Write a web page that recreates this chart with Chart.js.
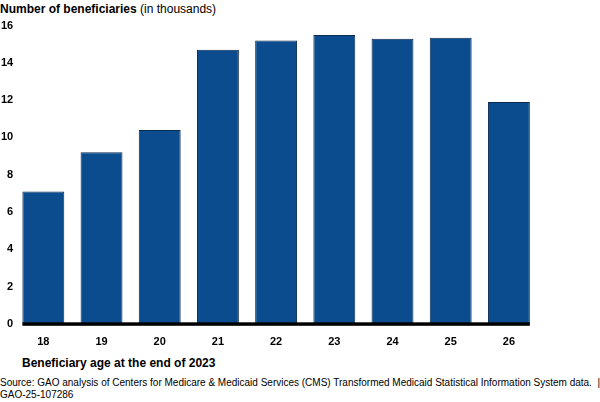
<!DOCTYPE html>
<html>
<head>
<meta charset="utf-8">
<script src="https://cdn.jsdelivr.net/npm/chart.js@4"></script>
<style>
  body { margin: 0; background: #fff; font-family: Arial, 'Liberation Sans', sans-serif; color: #000; }
  #wrap { position: relative; width: 600px; height: 402px; }
  #chartBox { position: absolute; left: 0; top: 18px; width: 600px; height: 335px; }
  .txt { position: absolute; white-space: nowrap; }
  #ytitle { left: 0; top: 2px; font-size: 12px; }
  #xtitle { left: 22px; top: 356px; font-size: 12px; font-weight: bold; }
  #source { left: 0; top: 377px; font-size: 10px; line-height: 12px; }
</style>
</head>
<body>
<div id="wrap">
  <div class="txt" id="ytitle"><b>Number of beneficiaries</b> (in thousands)</div>
  <div id="chartBox"><canvas id="chart"></canvas></div>
  <div class="txt" id="xtitle">Beneficiary age at the end of 2023</div>
  <div class="txt" id="source">Source: GAO analysis of Centers for Medicare &amp; Medicaid Services (CMS) Transformed Medicaid Statistical Information System data.&nbsp; |<br>GAO-25-107286</div>
</div>
<script>
const ages = ['18', '19', '20', '21', '22', '23', '24', '25', '26']
const beneficiaries = [7.1, 9.2, 10.4, 14.7, 15.2, 15.5, 15.3, 15.35, 11.9]
const yTicks = [0, 2, 4, 6, 8, 10, 12, 14, 16]

// thick black baseline under the bars only
const baseline = {
    id: 'baseline',
    afterDatasetsDraw(chart) {
        const bars = chart.getDatasetMeta(0).data
        const first = bars[0], last = bars[bars.length - 1]
        const y = chart.scales.y.getPixelForValue(0)
        const ctx = chart.ctx
        ctx.save()
        ctx.fillStyle = '#000'
        ctx.fillRect(first.x - first.width / 2, y - 1.5, (last.x + last.width / 2) - (first.x - first.width / 2), 3.5)
        ctx.restore()
    }
}

new Chart(document.getElementById('chart'), {
    type: 'bar',
    data: {
        labels: ages,
        datasets: [{
            data: beneficiaries,
            backgroundColor: '#0a4c8d',
            borderColor: '#0a2a50',
            borderWidth: 1,
            barPercentage: 0.72,
            categoryPercentage: 1
        }]
    },
    options: {
        responsive: true,
        maintainAspectRatio: false,
        animation: false,
        layout: { padding: { left: 0, right: 62, top: 2, bottom: 0 } },
        plugins: { legend: { display: false }, tooltip: { enabled: false } },
        scales: {
            x: {
                grid: { display: false },
                border: { display: false },
                ticks: { color: '#000', font: { family: 'Arial', size: 11, weight: 'bold' }, padding: 4 }
            },
            y: {
                min: 0,
                max: 16,
                afterBuildTicks: (axis) => { axis.ticks = yTicks.map(v => ({ value: v })) },
                grid: { display: false, drawTicks: false },
                border: { display: false },
                ticks: { color: '#000', font: { family: 'Arial', size: 11, weight: 'bold' }, padding: 1 }
            }
        }
    },
    plugins: [baseline]
})
</script>
</body>
</html>
